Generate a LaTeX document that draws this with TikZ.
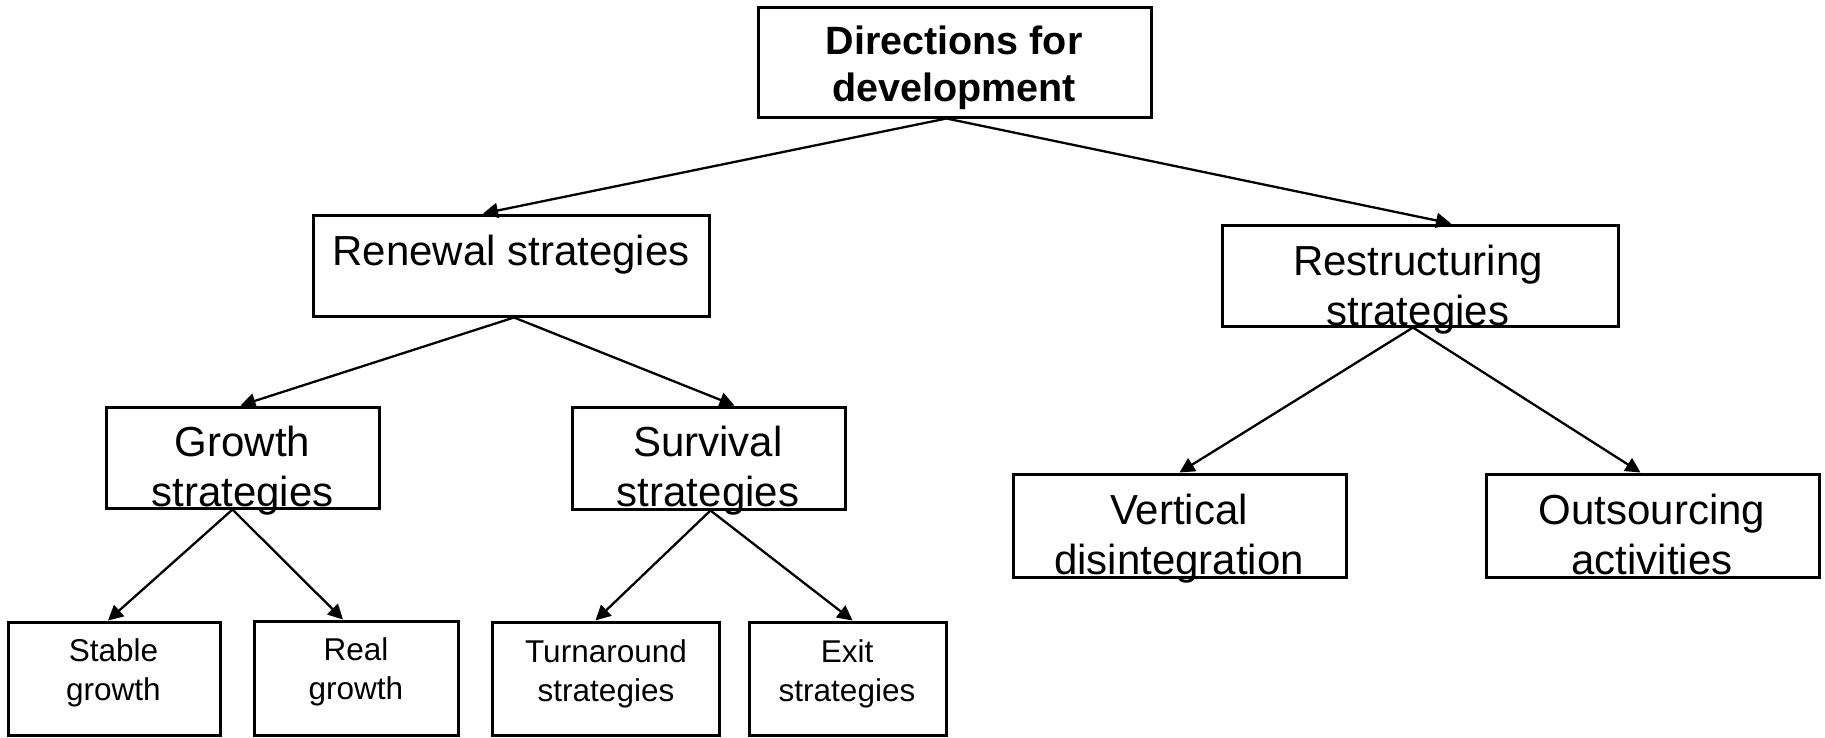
\documentclass[tikz,border=0pt]{standalone}
\usepackage{fontspec}
\setmainfont{Liberation Sans}
\usetikzlibrary{arrows.meta}
\tikzset{
  box/.style={draw, line width=3pt, rectangle, inner sep=0pt},
  bigtext/.style={font=\fontsize{42pt}{50pt}\selectfont, align=center, inner sep=0pt, anchor=north},
  smalltext/.style={font=\fontsize{31.5pt}{39pt}\selectfont, align=center, inner sep=0pt, anchor=north},
  toptext/.style={font=\fontsize{39.5pt}{47pt}\selectfont\bfseries, align=center, inner sep=0pt, anchor=north},
  arr/.style={line width=2.3pt, -{Triangle[length=15pt,width=15pt]}}
}
\begin{document}
\begin{tikzpicture}[x=1pt,y=-1pt]
\useasboundingbox (0,0) rectangle (1825,737);
% boxes
\node[box, minimum width=393pt, minimum height=110pt] (top) at (954.5,62) {};
\node[box, minimum width=396pt, minimum height=101pt] (renew) at (511,265.5) {};
\node[box, minimum width=396pt, minimum height=101pt] (restr) at (1420,275.5) {};
\node[box, minimum width=273pt, minimum height=101pt] (growth) at (242.5,457.5) {};
\node[box, minimum width=273pt, minimum height=102pt] (surv) at (708.5,458) {};
\node[box, minimum width=333pt, minimum height=103pt] (vert) at (1179.5,525.5) {};
\node[box, minimum width=333pt, minimum height=103pt] (outs) at (1652.5,525.5) {};
\node[box, minimum width=212pt, minimum height=113pt] (stable) at (114,678.5) {};
\node[box, minimum width=204pt, minimum height=114pt] (real) at (356,678) {};
\node[box, minimum width=227pt, minimum height=113pt] (turn) at (605.5,678.5) {};
\node[box, minimum width=197pt, minimum height=113pt] (exit) at (847.5,678.5) {};
% connectors
\draw[arr] ([xshift=-8pt]top.south) -- ([xshift=-28pt]renew.north);
\draw[arr] ([xshift=-8pt]top.south) -- ([xshift=31pt]restr.north);
\draw[arr] ([xshift=3pt]renew.south) -- ([xshift=-2pt]growth.north);
\draw[arr] ([xshift=3pt]renew.south) -- ([xshift=26pt]surv.north);
\draw[arr] ([xshift=-10pt]growth.south) -- ([xshift=-6pt]stable.north);
\draw[arr] ([xshift=-10pt]growth.south) -- ([xshift=-13pt]real.north);
\draw[arr] ([xshift=2pt]surv.south) -- ([xshift=-10pt]turn.north);
\draw[arr] ([xshift=2pt]surv.south) -- ([xshift=5pt]exit.north);
\draw[arr] ([xshift=-7pt]restr.south) -- (vert.north);
\draw[arr] ([xshift=-7pt]restr.south) -- ([xshift=-12pt]outs.north);
% texts
\node[toptext] (topt) at (954,26) {Directions for\\development};
\node[bigtext] (renewt) at (511,235) {Renewal strategies};
\node[bigtext] (growtht) at (242.5,426) {Growth\\strategies};
\node[bigtext] (survt) at (708,426) {Survival\\strategies};
\node[bigtext] (restrt) at (1418,245) {Restructuring\\strategies};
\node[bigtext] (vertt) at (1179,494) {Vertical\\disintegration};
\node[bigtext] (outst) at (1652,494) {Outsourcing\\activities};
\node[smalltext] (stablet) at (113.5,638) {Stable\\growth};
\node[smalltext] (realt) at (356,637) {Real\\growth};
\node[smalltext] (turnt) at (606,639) {Turnaround\\strategies};
\node[smalltext] (exitt) at (847,639) {Exit\\strategies};
\end{tikzpicture}
\end{document}
